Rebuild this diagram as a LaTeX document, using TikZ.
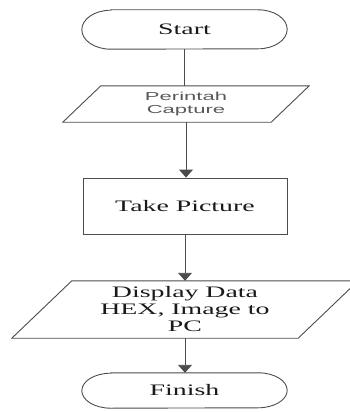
\documentclass[tikz,border=0pt]{standalone}
\usepackage{fontspec}
\setmainfont{Liberation Serif}[FakeStretch=1.74]
\newfontfamily\capfont{Liberation Sans}[FakeStretch=1.9]
\usetikzlibrary{arrows.meta}
\begin{document}
\begin{tikzpicture}[x=1pt,y=-1pt,
  lineclr/.style={draw=black!70, line width=0.9pt},
  holder/.style={draw=none, inner sep=0pt, align=center},
  flow/.style={lineclr, -{Triangle[length=8pt,width=14pt]}},
  serifTxt/.style={font=\fontsize{16}{17}\selectfont, text=black!90},
  sansTxt/.style={font=\capfont\fontsize{11.6}{12.5}\selectfont, text=black!65}
]
\useasboundingbox (0,0) rectangle (350,412);

% Start terminal
\node[holder, serifTxt, minimum width=205pt, minimum height=39pt] (start) at (184.5,29.5) {Start};
\draw[lineclr] ([xshift=29pt]start.north west) -- ([xshift=-29pt]start.north east)
  arc[x radius=29pt, y radius=19.5pt, start angle=90, end angle=-90]
  -- ([xshift=29pt]start.south west)
  arc[x radius=29pt, y radius=19.5pt, start angle=270, end angle=90] -- cycle;

% Perintah Capture (input)
\node[holder, sansTxt, minimum width=208pt, minimum height=36pt] (cap) at (186,104) {Perintah\\Capture};
\draw[lineclr] ([xshift=19pt]cap.north west) -- ([xshift=19pt]cap.north east)
  -- ([xshift=-19pt]cap.south east) -- ([xshift=-19pt]cap.south west) -- cycle;

% Take Picture (process)
\node[holder, serifTxt, lineclr, minimum width=204pt, minimum height=56pt] (take) at (185,206) {Take Picture};

% Display (output)
\node[holder, serifTxt, minimum width=286pt, minimum height=57pt] (disp) at (185,309.5) {Display Data\\HEX, Image to\\PC};
\draw[lineclr] ([xshift=30pt]disp.north west) -- ([xshift=30pt]disp.north east)
  -- ([xshift=-30pt]disp.south east) -- ([xshift=-30pt]disp.south west) -- cycle;

% Finish terminal
\node[holder, serifTxt, minimum width=205pt, minimum height=35pt] (finish) at (184.5,390.5) {Finish};
\draw[lineclr] ([xshift=29pt]finish.north west) -- ([xshift=-29pt]finish.north east)
  arc[x radius=29pt, y radius=17.5pt, start angle=90, end angle=-90]
  -- ([xshift=29pt]finish.south west)
  arc[x radius=29pt, y radius=17.5pt, start angle=270, end angle=90] -- cycle;

% connectors
\draw[lineclr] (start.south) -- (cap.north -| start.south);
\draw[flow] (cap.south) -- (take.north -| cap.south);
\draw[flow] (take.south) -- (disp.north -| take.south);
\draw[flow] (disp.south) -- (finish.north -| disp.south);
\end{tikzpicture}
\end{document}
